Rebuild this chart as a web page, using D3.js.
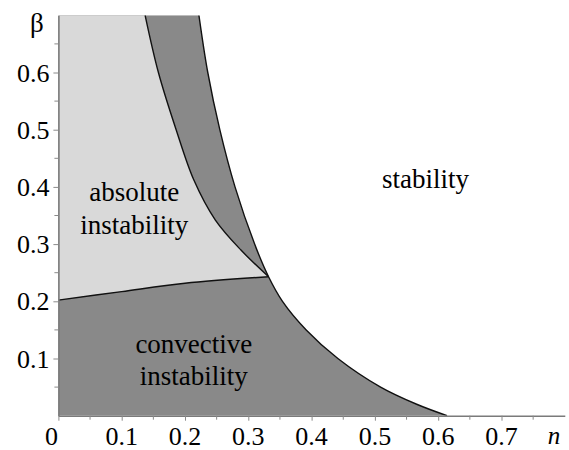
<!DOCTYPE html>
<html>
<head>
<meta charset="utf-8">
<script src="https://cdn.jsdelivr.net/npm/d3@7"></script>
</head>
<body style="margin:0">
<div id="chart"></div>
<script>
// boundary between convective instability and stability
const n_right    = [0.222, 0.236, 0.255, 0.279, 0.310, 0.332, 0.354, 0.3915, 0.4415, 0.509, 0.566, 0.614];
const beta_right = [0.700, 0.600, 0.500, 0.400, 0.300, 0.243, 0.200, 0.150, 0.100, 0.050, 0.020, 0.000];
// boundary between absolute and convective instability (upper branch)
const n_left     = [0.137, 0.158, 0.186, 0.214, 0.248, 0.288, 0.332];
const beta_left  = [0.700, 0.600, 0.500, 0.412, 0.342, 0.290, 0.243];
// lower boundary of absolute instability
const n_lower    = [0.000, 0.100, 0.200, 0.332];
const beta_lower = [0.202, 0.217, 0.2315, 0.243];

const x_ticks = [0, 0.1, 0.2, 0.3, 0.4, 0.5, 0.6, 0.7];
const y_ticks = [0.1, 0.2, 0.3, 0.4, 0.5, 0.6];
const minor_x = [0.05, 0.15, 0.25, 0.35, 0.45, 0.55, 0.65, 0.75];
const minor_y = [0.05, 0.15, 0.25, 0.35, 0.45, 0.55, 0.65];

const labels = [
  {text: "absolute", n: 0.120, beta: 0.375},
  {text: "instability", n: 0.120, beta: 0.318},
  {text: "convective", n: 0.214, beta: 0.110},
  {text: "instability", n: 0.214, beta: 0.053},
  {text: "stability", n: 0.580, beta: 0.398}
];

const margin = {top: 15.3, right: 4.2, bottom: 34.3, left: 58.4},
      width = 569 - margin.left - margin.right,
      height = 450 - margin.top - margin.bottom;

const root = d3.select("#chart")
  .append("svg")
    .attr("width", 569)
    .attr("height", 450);
const svg = root.append("g")
    .attr("transform", `translate(${margin.left},${margin.top})`);

// scales in page pixels so text can sit on the root svg
const x = d3.scaleLinear().domain([0, 0.8]).range([0, width]);
const y = d3.scaleLinear().domain([0, 0.7]).range([height, 0]);
const px = d => margin.left + x(d);
const py = d => margin.top + y(d);

const pts = (ns, bs) => ns.map((n, i) => [n, bs[i]]);
const right = pts(n_right, beta_right);
const left = pts(n_left, beta_left);
const lower = pts(n_lower, beta_lower);

const line = d3.line()
  .x(d => x(d[0]))
  .y(d => y(d[1]))
  .curve(d3.curveCatmullRom.alpha(0.5));

// join curve pieces into one path
const seg = p => line(p).replace(/^M/, "L");

svg.append("defs").append("clipPath")
    .attr("id", "clip")
  .append("rect")
    .attr("width", width)
    .attr("height", height);

const plot = svg.append("g").attr("clip-path", "url(#clip)");

// convective instability: everything under the right curve
plot.append("path")
  .attr("d", `M${x(0)},${y(0)}L${x(0)},${y(0.7)}` + seg(right) + "Z")
  .attr("fill", "#898989");

// absolute instability
plot.append("path")
  .attr("d", `M${x(0)},${y(0.7)}` + seg(left) + seg(lower.slice().reverse()) + "Z")
  .attr("fill", "#d9d9d9");

[right, left, lower].forEach(p => {
  plot.append("path")
    .attr("d", line(p))
    .attr("fill", "none")
    .attr("stroke", "#111")
    .attr("stroke-width", 1.4);
});

// axes (lines and ticks only)
const xAxis = svg.append("g")
  .attr("transform", `translate(0,${height})`)
  .call(d3.axisBottom(x).tickValues(x_ticks).tickFormat("").tickSize(5).tickSizeOuter(0));
xAxis.append("g").selectAll("line")
  .data(minor_x)
  .join("line")
    .attr("x1", d => x(d)).attr("x2", d => x(d))
    .attr("y1", 0).attr("y2", 4);

const yAxis = svg.append("g")
  .call(d3.axisLeft(y).tickValues(y_ticks).tickFormat("").tickSize(5).tickSizeOuter(0));
yAxis.append("g").selectAll("line")
  .data(minor_y)
  .join("line")
    .attr("x1", 0).attr("x2", -4)
    .attr("y1", d => y(d)).attr("y2", d => y(d));

[xAxis, yAxis].forEach(a => {
  a.select(".domain").attr("stroke", "#7a7a7a").attr("stroke-width", 1.6);
  a.selectAll("line").attr("stroke", "#8a8a8a").attr("stroke-width", 1);
});

// shift text by its measured width
function place(sel, anchor) {
  sel.each(function() {
    const t = d3.select(this);
    const w = this.getComputedTextLength();
    const x0 = +t.attr("x");
    t.attr("x", anchor === "middle" ? x0 - w / 2 : x0 - w);
  });
}

// tick labels
const xLabels = root.selectAll(".xlab")
  .data(x_ticks)
  .join("text")
    .attr("class", "xlab")
    .attr("x", d => px(d) - (d === 0 ? 7 : 0))
    .attr("y", py(0) + 29.5)
    .style("font-family", '"Liberation Serif"')
    .style("font-size", "26px")
    .text(d => d === 0 ? "0" : d3.format(".1f")(d));
place(xLabels, "middle");

const yLabels = root.selectAll(".ylab")
  .data(y_ticks)
  .join("text")
    .attr("class", "ylab")
    .attr("x", margin.left - 9)
    .attr("y", d => py(d) + 9)
    .style("font-family", '"Liberation Serif"')
    .style("font-size", "26px")
    .text(d => d3.format(".1f")(d));
place(yLabels, "end");

// axis titles
const nTitle = root.append("text")
  .attr("x", px(0.783))
  .attr("y", py(0) + 28.5)
  .style("font-family", '"Liberation Serif"')
  .style("font-style", "italic")
  .style("font-size", "25px")
  .text("n");
place(nTitle, "middle");

const bTitle = root.append("text")
  .attr("x", margin.left - 21.5)
  .attr("y", margin.top + 17)
  .style("font-family", '"Liberation Serif"')
  .style("font-size", "27px")
  .text("β");
place(bTitle, "middle");

// region labels
const regionText = root.selectAll(".region")
  .data(labels)
  .join("text")
    .attr("class", "region")
    .attr("x", d => px(d.n))
    .attr("y", d => py(d.beta))
    .style("font-family", '"Liberation Serif"')
    .style("font-size", "27px")
    .text(d => d.text);
place(regionText, "middle");
</script>
</body>
</html>
